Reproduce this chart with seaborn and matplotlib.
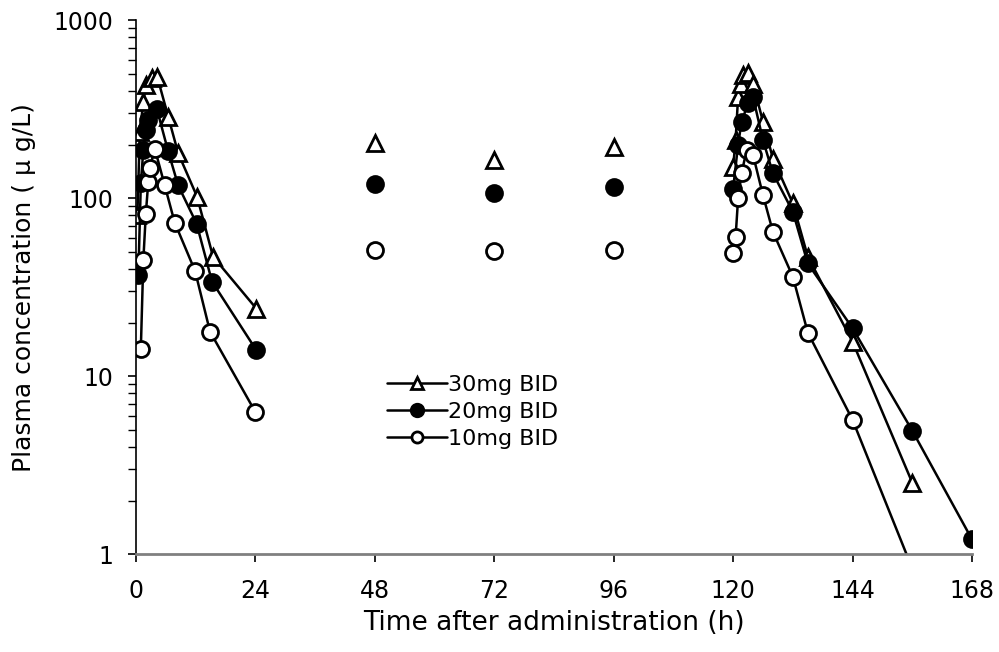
import matplotlib
matplotlib.use("Agg")
import matplotlib.pyplot as plt
import seaborn as sns
from matplotlib.lines import Line2D
from matplotlib.ticker import LogLocator, NullFormatter, FixedLocator

sns.set_style("white")
plt.rcParams['font.family'] = ['DejaVu Sans']
plt.rcParams['text.color'] = 'black'
plt.rcParams['axes.labelcolor'] = 'black'
plt.rcParams['xtick.color'] = 'black'
plt.rcParams['ytick.color'] = 'black'

# ---- data ----
groups = ["30mg BID", "20mg BID", "10mg BID"]

# first dose
t1_30 = [0.3, 0.8, 1.5, 2.0, 3.2, 4.3, 6.5, 8.5, 12.3, 15.5, 24.2]
c1_30 = [80, 236, 348, 432, 471, 481, 287, 179, 102, 47, 24]
t1_20 = [0.5, 1.0, 1.5, 2.0, 2.5, 4.2, 6.5, 8.5, 12.2, 15.3, 24.2]
c1_20 = [37, 122, 186, 241, 274, 319, 183, 118, 72, 34, 14]
t1_10 = [1.0, 1.5, 2.0, 2.5, 2.8, 3.8, 5.8, 7.8, 11.9, 14.9, 24.0]
c1_10 = [14.3, 45, 81.5, 124, 147, 190, 118, 73, 39, 17.8, 6.3]

# troughs
tt = [48, 72, 96]
ct_30 = [203, 164, 193]
ct_20 = [120, 107, 115]
ct_10 = [51.2, 50.5, 51]

# second dose
t2_30 = [120, 120.5, 121, 121.5, 122, 123, 124, 126, 128, 132, 135, 144, 156]
c2_30 = [150, 212, 371, 441, 491, 502, 441, 269, 167, 93.5, 47, 15.6, 2.52]
t2_20 = [120, 121, 121.7, 123, 124, 126, 128, 132, 135, 144, 156, 168]
c2_20 = [113, 200, 269, 341, 370, 212, 138, 84, 43, 18.6, 4.94, 1.21]
t2_10 = [120, 120.5, 121, 121.7, 122.7, 124, 126, 128, 132, 135, 144, 156]
c2_10 = [49, 60.7, 99.8, 138, 186, 175, 104, 64.7, 36.2, 17.6, 5.68, 0.83]

xticks = [0, 24, 48, 72, 96, 120, 144, 168]
yticks = [1, 10, 100, 1000]
ytick_labels = ["1", "10", "100", "1000"]

series = {
    "30mg BID": (t1_30, c1_30, ct_30, t2_30, c2_30),
    "20mg BID": (t1_20, c1_20, ct_20, t2_20, c2_20),
    "10mg BID": (t1_10, c1_10, ct_10, t2_10, c2_10),
}
style = {
    "30mg BID": dict(marker="^", mfc="white", ms=11.5, lms=8),
    "20mg BID": dict(marker="o", mfc="black", ms=11.5, lms=9),
    "10mg BID": dict(marker="o", mfc="white", ms=11.5, lms=8),
}

fig = plt.figure(figsize=(9.99, 6.52), dpi=100)
ax = fig.add_axes([0.136, 0.150, 0.837, 0.819])

for g in groups:
    a_t, a_c, tr_c, b_t, b_c = series[g]
    st = style[g]
    kw = dict(color="black", lw=1.8, marker=st["marker"], markersize=st["ms"],
              markerfacecolor=st["mfc"], markeredgecolor="black",
              markeredgewidth=2, estimator=None, sort=False, ax=ax, legend=False)
    sns.lineplot(x=a_t, y=a_c, **kw)
    sns.lineplot(x=b_t, y=b_c, **kw)
    sns.lineplot(x=tt, y=tr_c, color="black", lw=0, linestyle="none",
                 marker=st["marker"], markersize=st["ms"],
                 markerfacecolor=st["mfc"], markeredgecolor="black",
                 markeredgewidth=2, estimator=None, sort=False, ax=ax, legend=False)

ax.set_yscale("log")
ax.set_ylim(1, 1000)
ax.set_xlim(0, 168)
ax.xaxis.set_major_locator(FixedLocator(xticks))
ax.set_xticklabels([str(v) for v in xticks])
ax.yaxis.set_major_locator(FixedLocator(yticks))
ax.set_yticklabels(ytick_labels)
ax.yaxis.set_minor_locator(LogLocator(base=10, subs=range(2, 10)))
ax.yaxis.set_minor_formatter(NullFormatter())

for s in ["top", "right"]:
    ax.spines[s].set_visible(False)
ax.spines["left"].set_color("black")
ax.spines["left"].set_linewidth(1.2)
ax.spines["bottom"].set_color("#808080")
ax.spines["bottom"].set_linewidth(2)

ax.tick_params(axis="both", which="major", direction="out", length=6, width=1.2,
               color="black", labelsize=17, left=True, bottom=True)
ax.tick_params(axis="x", which="major", pad=12)
ax.tick_params(axis="y", which="major", pad=10.5)
ax.tick_params(axis="y", which="minor", direction="out", length=6, width=1.0,
               color="black", left=True)

ax.set_xlabel("Time after administration (h)", fontsize=19, labelpad=5)
ax.set_ylabel("Plasma concentration ( \u03bc g/L)", fontsize=18, labelpad=12)

handles = []
for g in groups:
    st = style[g]
    handles.append(Line2D([0], [0], color="black", lw=1.8, marker=st["marker"],
                          markersize=st["lms"], markerfacecolor=st["mfc"],
                          markeredgecolor="black", markeredgewidth=2))
leg = ax.legend(handles, groups, loc="upper left", bbox_to_anchor=(0.300, 0.336),
                frameon=False, fontsize=16, handlelength=2.7, handletextpad=0.05,
                labelspacing=0.32, borderpad=0, borderaxespad=0)

fig.savefig("out.png", dpi=100)
